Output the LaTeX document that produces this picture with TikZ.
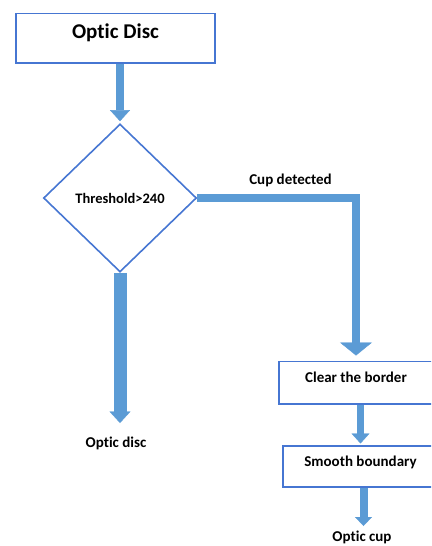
\documentclass[tikz,border=0pt]{standalone}
\usepackage{fontspec}
\setmainfont{Carlito}[Ligatures=NoCommon]
\usepackage{tikz}
\usetikzlibrary{shapes.geometric, arrows.meta, positioning, calc}
\definecolor{pipeblue}{RGB}{91,155,213}
\definecolor{edgeblue}{RGB}{70,118,210}

\begin{document}
\begin{tikzpicture}[x=1pt, y=-1pt,
  procbox/.style={draw=edgeblue, line width=1.8pt, fill=white, inner sep=0pt,
    anchor=base, text height=#1, text depth=#1},
  pipe/.style n args={3}{draw=pipeblue, line width=#1, line join=miter,
    -{Triangle[length=#2, width=#3, line width=0.4pt]}},
  txt/.style={font=\bfseries\fontsize{15}{18}\selectfont, anchor=base}
]
  \useasboundingbox (0,0) rectangle (431,546);
  \clip (0,0) rectangle (431,546);

  % boxes
  \node[procbox=24.6pt, minimum width=199pt, font=\bfseries\fontsize{21}{25}\selectfont]
    (disc) at (115.5,38) {Optic Disc};
  \node[diamond, draw=edgeblue, line width=1.6pt, inner sep=0pt,
    minimum width=153pt, minimum height=148pt,
    font=\bfseries\fontsize{14.5}{17}\selectfont] (thr) at (120,198) {Threshold>240};
  \node[procbox=21.1pt, minimum width=154pt, txt] (clr) at (356,382.5) {Clear the border};
  \node[procbox=20.6pt, minimum width=155pt, txt] (smo) at (360.5,466.5) {Smooth boundary};

  % free ends
  \coordinate (discend) at (120,423);
  \coordinate (cupend) at (363.5,526);

  % connectors
  \draw[pipe={8.7pt}{11pt}{20pt}] (thr.north |- disc.south) -- ([yshift=2pt]thr.north);
  \draw[pipe={13pt}{11.5pt}{21pt}] (thr.south) -- (discend);
  \draw[pipe={7.5pt}{13pt}{32pt}, shorten >=5pt] (thr.east) -- (thr.east -| clr.north) -- (clr.north);
  \draw[pipe={7pt}{10pt}{18pt}, shorten >=1.5pt] (smo.north |- clr.south) -- (smo.north);
  \draw[pipe={8pt}{9pt}{17pt}] (cupend |- smo.south) -- (cupend);

  % labels
  \node[txt] (cup) at (290.5,184.3) {Cup detected};
  \node[txt] (odisc) at (116,447.7) {Optic disc};
  \node[txt] (ocup) at (362,541.5) {Optic cup};
\end{tikzpicture}
\end{document}
